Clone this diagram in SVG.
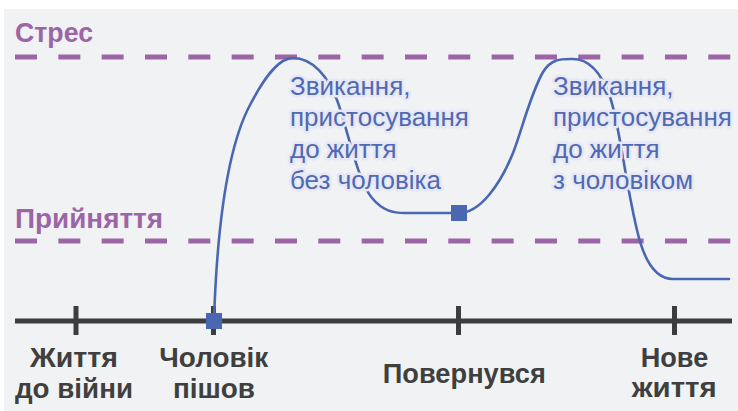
<svg xmlns="http://www.w3.org/2000/svg" width="738" height="411" viewBox="0 0 738 411">
<style>
.guide{stroke:#9c65a6;stroke-width:5;stroke-dasharray:22 21.33;fill:none}
.glabel{font-family:"Liberation Sans",Arial,sans-serif;font-weight:bold;font-size:27px;fill:#9c65a6}
.axis{stroke:#3d3d3d;stroke-width:5;fill:none}
.tlabel{font-family:"Liberation Sans",Arial,sans-serif;font-weight:bold;font-size:28px;fill:#3f3f3f;text-anchor:middle}
.curve{stroke:#4a67b2;stroke-width:2.6;fill:none;stroke-linecap:round}
.mark{fill:#4a67b2}
.note{font-family:"Liberation Sans",Arial,sans-serif;font-size:26px;fill:#5069b3;stroke:#e6e8f5;stroke-width:5;stroke-linejoin:round;paint-order:stroke}
</style>
<rect x="0" y="0" width="738" height="411" fill="#ffffff"/>
<rect x="4" y="9" width="734" height="402" fill="#f1f2f4"/>
<g id="guides">
<line class="guide" x1="15" y1="57" x2="738" y2="57"/>
<line class="guide" x1="15" y1="241" x2="738" y2="241"/>
<text class="glabel" x="15" y="42" textLength="78" lengthAdjust="spacingAndGlyphs">Стрес</text>
<text class="glabel" x="15" y="228" textLength="148" lengthAdjust="spacingAndGlyphs">Прийняття</text>
</g>
<g id="axis">
<line class="axis" x1="15" y1="321" x2="732" y2="321"/>
<line class="axis" x1="76" y1="306" x2="76" y2="335"/>
<line class="axis" x1="213.5" y1="306" x2="213.5" y2="335"/>
<line class="axis" x1="458.5" y1="306" x2="458.5" y2="335"/>
<line class="axis" x1="674.5" y1="306" x2="674.5" y2="335"/>
</g>
<g id="connectors">
<path class="curve" d="M214,320 C217,230 226,150 250,105 C262,82 277,58 293,58 C313,58 328,77 337,100 C346,123 357,180 372,198 C383,211 393,213 405,213 L459,213 C480,213 500,185 513,153 C521,133 530,95 543,72 C552,58 562,59 573,59 C588,59 601,72 610,97 C619,122 625,180 637,230 C642,252 652,279 673,279 L729,279"/>
</g>
<g id="node-left">
<rect class="mark" x="206" y="313" width="16" height="16"/>
</g>
<g id="node-return">
<rect class="mark" x="451" y="205" width="16" height="16"/>
</g>
<g id="note-without">
<text class="note" x="290" y="94.5">Звикання,</text>
<text class="note" x="290" y="126">пристосування</text>
<text class="note" x="290" y="157.5">до життя</text>
<text class="note" x="290" y="189">без чоловіка</text>
</g>
<g id="note-with">
<text class="note" x="553" y="94.5">Звикання,</text>
<text class="note" x="553" y="126">пристосування</text>
<text class="note" x="553" y="157.5">до життя</text>
<text class="note" x="553" y="189">з чоловіком</text>
</g>
<g id="label-prewar">
<text class="tlabel" x="74" y="367" textLength="88" lengthAdjust="spacingAndGlyphs">Життя</text>
<text class="tlabel" x="74" y="397.5" textLength="118" lengthAdjust="spacingAndGlyphs">до війни</text>
</g>
<g id="label-left">
<text class="tlabel" x="213.8" y="367" textLength="109" lengthAdjust="spacingAndGlyphs">Чоловік</text>
<text class="tlabel" x="214" y="397.5" textLength="82" lengthAdjust="spacingAndGlyphs">пішов</text>
</g>
<g id="label-returned">
<text class="tlabel" x="464.3" y="383" textLength="163" lengthAdjust="spacingAndGlyphs">Повернувся</text>
</g>
<g id="label-newlife">
<text class="tlabel" x="674.5" y="367" textLength="67.6" lengthAdjust="spacingAndGlyphs">Нове</text>
<text class="tlabel" x="674.2" y="397" textLength="85" lengthAdjust="spacingAndGlyphs">життя</text>
</g>
</svg>
